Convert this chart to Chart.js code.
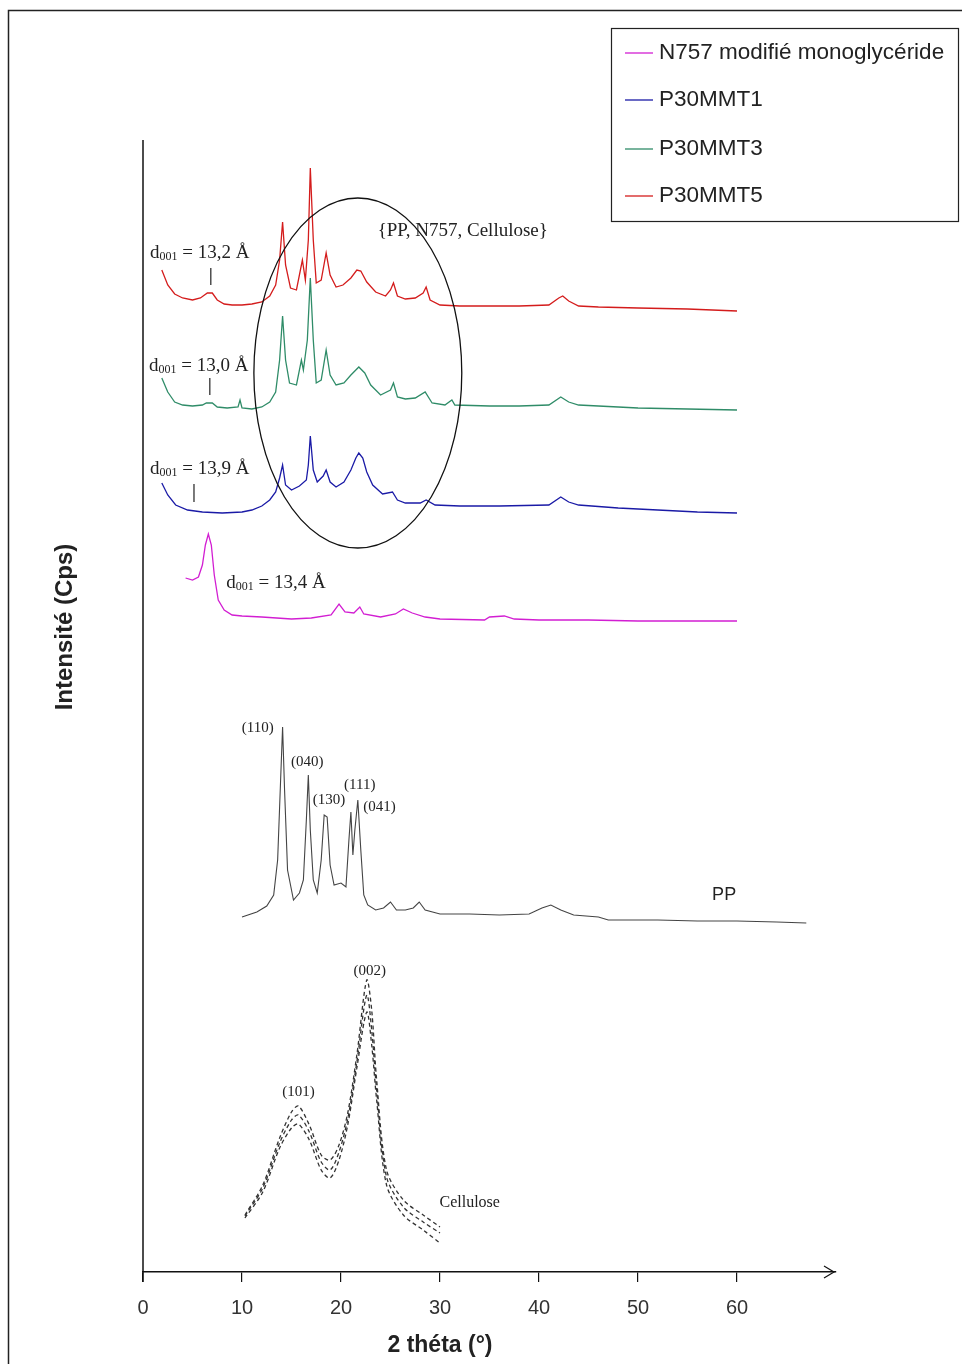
<!DOCTYPE html>
<html>
<head>
<meta charset="utf-8">
<script src="https://cdn.jsdelivr.net/npm/chart.js@4.4.1/dist/chart.umd.min.js"></script>
<style>
  html, body { margin: 0; padding: 0; background: #fff; }
  #wrap { width: 962px; height: 1364px; }
</style>
</head>
<body>
<div id="wrap"><canvas id="xrd"></canvas></div>
<script>
// 2 theta ticks
const xTicks = [0, 10, 20, 30, 40, 50, 60];

// P30MMT5 (red)
const mmt5Theta = [1.9, 2.5, 3.2, 4.0, 5.0, 5.8, 6.5, 7.0, 7.5, 8.2, 9.0, 10.0, 11.0, 12.0, 12.8, 13.4, 13.8, 14.1, 14.4, 14.9, 15.5, 15.9, 16.1, 16.4, 16.7, 16.9, 17.2, 17.5, 18.0, 18.5, 18.9, 19.5, 20.2, 21.0, 21.6, 22.0, 22.6, 23.5, 24.5, 25.0, 25.3, 25.7, 26.5, 27.5, 28.3, 28.6, 29.0, 30.0, 32.0, 35.0, 38.0, 41.0, 42.0, 42.4, 43.0, 44.0, 46.0, 50.0, 55.0, 60.0];
const mmt5Int = [1002, 987, 978, 974, 972, 974, 979, 979, 972, 968, 967, 967, 968, 970, 976, 987, 1012, 1050, 1007, 984, 982, 1002, 1012, 992, 1032, 1104, 1032, 989, 992, 1019, 997, 985, 987, 994, 1002, 1001, 990, 980, 976, 982, 989, 976, 973, 974, 979, 985, 972, 967, 966, 966, 966, 967, 974, 976, 971, 966, 965, 964, 963, 961];

// P30MMT3 (green)
const mmt3Theta = [1.9, 2.5, 3.2, 4.0, 5.0, 6.0, 6.4, 7.0, 7.5, 8.5, 9.6, 9.8, 10.0, 11.0, 12.0, 12.8, 13.4, 13.8, 14.1, 14.4, 14.8, 15.5, 16.0, 16.2, 16.6, 16.9, 17.2, 17.5, 18.0, 18.5, 18.9, 19.5, 20.3, 21.0, 21.8, 22.4, 23.0, 24.0, 25.0, 25.3, 25.7, 26.5, 27.5, 28.5, 29.2, 30.5, 31.2, 31.5, 35.0, 38.0, 41.0, 42.2, 43.0, 44.0, 50.0, 55.0, 60.0];
const mmt3Int = [894, 880, 870, 867, 866, 867, 869, 869, 865, 864, 865, 872, 864, 863, 865, 870, 880, 912, 956, 912, 889, 887, 912, 902, 932, 994, 932, 889, 892, 922, 897, 887, 889, 897, 905, 899, 887, 877, 882, 889, 875, 873, 874, 880, 869, 867, 872, 867, 866, 866, 867, 875, 870, 867, 864, 863, 862];

// P30MMT1 (blue)
const mmt1Theta = [1.9, 2.5, 3.3, 4.5, 6.0, 8.0, 10.0, 11.0, 12.0, 12.8, 13.4, 13.8, 14.1, 14.4, 15.0, 15.8, 16.5, 16.7, 16.9, 17.2, 17.6, 18.2, 18.5, 18.9, 19.5, 20.3, 21.0, 21.5, 21.8, 22.2, 22.6, 23.2, 24.2, 25.2, 25.7, 26.5, 28.0, 28.6, 29.5, 32.0, 36.0, 41.0, 42.2, 43.0, 44.0, 48.0, 52.0, 56.0, 60.0];
const mmt1Int = [789, 777, 767, 762, 760, 759, 760, 762, 766, 772, 780, 794, 807, 787, 782, 786, 792, 807, 836, 802, 790, 796, 802, 790, 785, 790, 802, 814, 819, 814, 800, 787, 778, 780, 772, 769, 769, 772, 767, 766, 766, 767, 775, 770, 767, 764, 762, 760, 759];

// N757 modifie monoglyceride (magenta)
const n757Theta = [4.3, 5.0, 5.6, 6.0, 6.3, 6.6, 6.9, 7.2, 7.6, 8.2, 9.0, 10.0, 12.0, 15.0, 17.0, 19.0, 19.8, 20.4, 21.3, 21.9, 22.3, 24.0, 25.5, 26.3, 27.2, 28.5, 30.0, 34.5, 35.0, 36.5, 37.5, 40.0, 45.0, 50.0, 55.0, 60.0];
const n757Int = [694, 692, 695, 707, 727, 738, 727, 697, 672, 662, 657, 656, 655, 653, 654, 657, 668, 660, 659, 665, 658, 655, 658, 663, 659, 655, 653, 652, 655, 656, 653, 652, 652, 651, 651, 651];

// PP reference
const ppTheta = [10.0, 11.5, 12.5, 13.2, 13.6, 13.9, 14.1, 14.3, 14.6, 15.2, 15.8, 16.2, 16.5, 16.7, 16.9, 17.2, 17.6, 18.0, 18.3, 18.6, 18.9, 19.3, 20.0, 20.5, 20.8, 21.0, 21.2, 21.4, 21.7, 22.0, 22.3, 22.7, 23.5, 24.3, 25.0, 25.6, 26.5, 27.3, 27.9, 28.5, 30.0, 33.0, 36.0, 39.0, 40.3, 41.2, 42.2, 43.5, 46.0, 47.0, 52.0, 56.0, 60.0, 64.0, 67.0];
const ppInt = [355, 360, 366, 377, 412, 492, 545, 482, 402, 372, 379, 392, 452, 497, 442, 392, 379, 412, 457, 455, 407, 387, 389, 385, 432, 460, 417, 442, 472, 422, 377, 367, 362, 364, 370, 362, 362, 364, 370, 362, 358, 358, 357, 358, 364, 367, 362, 357, 355, 352, 352, 351, 351, 350, 349];

// Cellulose reference (three runs)
const celTheta = [10.3, 12.1, 13.8, 15.0, 15.7, 16.8, 18.0, 18.9, 19.8, 20.7, 21.6, 22.6, 23.1, 23.6, 24.6, 26.3, 28.3, 30.0];
const celIntA = [57, 87, 134, 160, 166, 147, 117, 112, 127, 160, 217, 292, 262, 192, 102, 72, 57, 45];
const celIntB = [56, 84, 129, 152, 157, 140, 110, 102, 120, 154, 210, 277, 242, 182, 95, 65, 50, 39];
const celIntC = [54, 80, 124, 144, 148, 132, 102, 94, 112, 148, 204, 260, 227, 172, 87, 57, 42, 29];

const seriesNames = ['N757 modifié monoglycéride', 'P30MMT1', 'P30MMT3', 'P30MMT5'];

function pts(xs, ys) {
    return xs.map((x, i) => ({x: x, y: ys[i]}));
}

// text placed on the plot, anchored in data units (2 theta, intensity)
const peakLabels = [
    {t: '(110)', x: 11.6, y: 544}, {t: '(040)', x: 16.6, y: 510}, {t: '(130)', x: 18.8, y: 472},
    {t: '(111)', x: 21.9, y: 487}, {t: '(041)', x: 23.9, y: 465},
    {t: '(002)', x: 22.9, y: 301}, {t: '(101)', x: 15.7, y: 180}
];
const dLabels = [
    {v: '13,2', x: 0.7, y: 1019, mark: [6.85, 1004, 987]},
    {v: '13,0', x: 0.6, y: 906, mark: [6.75, 894, 877]},
    {v: '13,9', x: 0.7, y: 803, mark: [5.15, 788, 770]},
    {v: '13,4', x: 8.4, y: 689, mark: null}
];

const serif = '"Liberation Serif", "DejaVu Serif", serif';
const sans = '"Liberation Sans", Arial, sans-serif';

const decor = {
    id: 'decor',
    afterDraw(chart) {
        const ctx = chart.ctx;
        const xs = chart.scales.x, ys = chart.scales.y;
        const X = v => xs.getPixelForValue(v), Y = v => ys.getPixelForValue(v);
        const area = chart.chartArea;
        ctx.save();

        // outer frame
        ctx.strokeStyle = '#222';
        ctx.lineWidth = 1.5;
        ctx.beginPath();
        ctx.moveTo(8.5, 1364);
        ctx.lineTo(8.5, 10.5);
        ctx.lineTo(962, 10.5);
        ctx.stroke();

        // y axis line
        ctx.strokeStyle = '#111';
        ctx.lineWidth = 1.5;
        ctx.beginPath();
        ctx.moveTo(X(0), area.top);
        ctx.lineTo(X(0), area.bottom + 10);
        ctx.stroke();

        // arrow head on x axis
        ctx.lineWidth = 1.2;
        ctx.beginPath();
        ctx.moveTo(area.right - 12, area.bottom - 6);
        ctx.lineTo(area.right - 2, area.bottom);
        ctx.lineTo(area.right - 12, area.bottom + 6);
        ctx.stroke();

        // axis titles
        ctx.fillStyle = '#222';
        ctx.font = 'bold 23px ' + sans;
        ctx.textAlign = 'center';
        ctx.textBaseline = 'middle';
        ctx.fillText('2 théta (°)', X(30), 1346);
        ctx.save();
        ctx.translate(65, 627);
        ctx.rotate(-Math.PI / 2);
        ctx.font = 'bold 24px ' + sans;
        ctx.fillText('Intensité (Cps)', 0, 0);
        ctx.restore();

        // ellipse around the PP / N757 / cellulose peaks
        ctx.strokeStyle = '#111';
        ctx.lineWidth = 1.3;
        ctx.beginPath();
        ctx.ellipse(X(21.7), Y(899), X(10.5) - X(0), Y(899) - Y(1074), 0, 0, Math.PI * 2);
        ctx.stroke();

        // d001 labels
        ctx.fillStyle = '#222';
        ctx.textAlign = 'left';
        ctx.textBaseline = 'middle';
        dLabels.forEach(d => {
            let x = X(d.x), y = Y(d.y);
            ctx.font = '19px ' + serif;
            ctx.fillText('d', x, y);
            x += ctx.measureText('d').width;
            ctx.font = '12px ' + serif;
            ctx.fillText('001', x, y + 4);
            x += ctx.measureText('001').width;
            ctx.font = '19px ' + serif;
            ctx.fillText(' = ' + d.v + ' Å', x, y);
            if (d.mark) {
                ctx.strokeStyle = '#222';
                ctx.lineWidth = 1.2;
                ctx.beginPath();
                ctx.moveTo(X(d.mark[0]), Y(d.mark[1]));
                ctx.lineTo(X(d.mark[0]), Y(d.mark[2]));
                ctx.stroke();
            }
        });
        ctx.font = '19px ' + serif;
        ctx.fillText('{PP, N757, Cellulose}', X(23.7), Y(1041));

        // Miller indices
        ctx.textAlign = 'center';
        ctx.font = '15px ' + serif;
        peakLabels.forEach(p => ctx.fillText(p.t, X(p.x), Y(p.y)));
        ctx.font = '16px ' + serif;
        ctx.fillText('Cellulose', X(33.0), Y(69));
        ctx.font = '18px ' + sans;
        ctx.fillText('PP', X(58.7), Y(377));

        // legend box
        ctx.fillStyle = '#fff';
        ctx.fillRect(611.5, 28.5, 347, 193);
        ctx.strokeStyle = '#222';
        ctx.lineWidth = 1.2;
        ctx.strokeRect(611.5, 28.5, 347, 193);
        const rows = [53, 100, 149, 196];
        ctx.textAlign = 'left';
        ctx.font = '22.5px ' + sans;
        rows.forEach((ry, i) => {
            const ds = chart.data.datasets[i];
            ctx.strokeStyle = ds.borderColor;
            ctx.lineWidth = 1.3;
            ctx.beginPath();
            ctx.moveTo(625, ry);
            ctx.lineTo(653, ry);
            ctx.stroke();
            ctx.fillStyle = '#222';
            ctx.fillText(ds.label, 659, ry);
        });
        ctx.restore();
    }
};

const lineBase = {pointRadius: 0, borderWidth: 1.3, tension: 0, fill: false};

new Chart(document.getElementById('xrd'), {
    type: 'line',
    data: {
        datasets: [
            Object.assign({label: seriesNames[0], data: pts(n757Theta, n757Int), borderColor: '#d21ed2'}, lineBase),
            Object.assign({label: seriesNames[1], data: pts(mmt1Theta, mmt1Int), borderColor: '#1a1aa6'}, lineBase),
            Object.assign({label: seriesNames[2], data: pts(mmt3Theta, mmt3Int), borderColor: '#2f8c68'}, lineBase),
            Object.assign({label: seriesNames[3], data: pts(mmt5Theta, mmt5Int), borderColor: '#d41c1c'}, lineBase),
            Object.assign({label: 'PP', data: pts(ppTheta, ppInt), borderColor: '#444'}, lineBase, {borderWidth: 1.1}),
            Object.assign({label: 'Cellulose a', data: pts(celTheta, celIntA), borderColor: '#333', borderDash: [4, 3]}, lineBase, {tension: 0.3}),
            Object.assign({label: 'Cellulose b', data: pts(celTheta, celIntB), borderColor: '#333', borderDash: [4, 3]}, lineBase, {tension: 0.3}),
            Object.assign({label: 'Cellulose c', data: pts(celTheta, celIntC), borderColor: '#333', borderDash: [4, 3]}, lineBase, {tension: 0.3})
        ]
    },
    options: {
        responsive: true,
        maintainAspectRatio: false,
        animation: false,
        layout: {padding: {left: 143, right: 126, top: 140, bottom: 0}},
        plugins: {legend: {display: false}, tooltip: {enabled: false}},
        scales: {
            x: {
                type: 'linear',
                min: 0,
                max: 70,
                afterBuildTicks(scale) {
                    scale.ticks = xTicks.map(v => ({value: v}));
                },
                afterFit(scale) { scale.height = 92; },
                ticks: {color: '#333', font: {family: sans, size: 20}, padding: 14},
                grid: {drawOnChartArea: false, drawTicks: true, tickLength: 10, color: '#111', tickColor: '#111', lineWidth: 1.2},
                border: {display: true, color: '#111', width: 1.5}
            },
            y: {
                type: 'linear',
                display: false,
                min: 0,
                max: 1132
            }
        }
    },
    plugins: [decor]
});
</script>
</body>
</html>
